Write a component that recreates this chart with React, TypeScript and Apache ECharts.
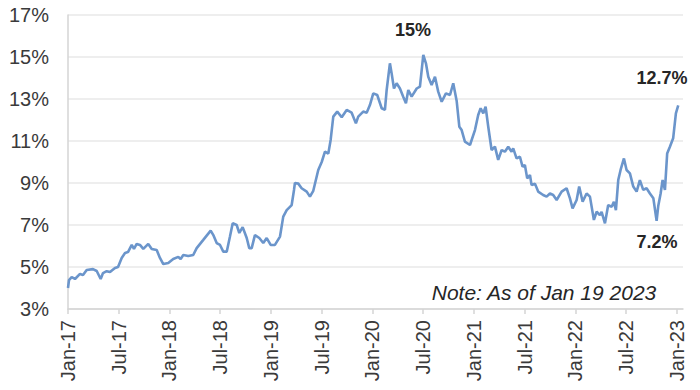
import React, { useEffect, useRef } from "react";
import * as echarts from "echarts";

// decimal year of each observation
const years: number[] = [
  2017.0, 2017.01, 2017.036, 2017.069, 2017.118, 2017.148, 2017.184, 2017.246, 2017.283, 2017.322,
  2017.345, 2017.381, 2017.414, 2017.463, 2017.493, 2017.529, 2017.562, 2017.591, 2017.628, 2017.65,
  2017.677, 2017.709, 2017.742, 2017.791, 2017.825, 2017.874, 2017.906, 2017.939, 2017.988, 2018.037,
  2018.087, 2018.11, 2018.136, 2018.185, 2018.234, 2018.268, 2018.333, 2018.406, 2018.432, 2018.465,
  2018.498, 2018.53, 2018.564, 2018.596, 2018.623, 2018.662, 2018.688, 2018.721, 2018.761, 2018.786,
  2018.81, 2018.842, 2018.885, 2018.924, 2018.958, 2018.997, 2019.039, 2019.089, 2019.121, 2019.155,
  2019.204, 2019.227, 2019.236, 2019.269, 2019.302, 2019.352, 2019.384, 2019.417, 2019.466, 2019.5,
  2019.532, 2019.565, 2019.588, 2019.614, 2019.653, 2019.697, 2019.746, 2019.795, 2019.837, 2019.86,
  2019.909, 2019.943, 2019.975, 2020.008, 2020.047, 2020.091, 2020.123, 2020.14, 2020.172, 2020.189,
  2020.212, 2020.238, 2020.271, 2020.303, 2020.33, 2020.353, 2020.386, 2020.436, 2020.468, 2020.501,
  2020.527, 2020.55, 2020.583, 2020.616, 2020.648, 2020.682, 2020.724, 2020.764, 2020.796, 2020.83,
  2020.856, 2020.879, 2020.911, 2020.961, 2021.01, 2021.042, 2021.066, 2021.092, 2021.115, 2021.141,
  2021.174, 2021.207, 2021.239, 2021.273, 2021.305, 2021.338, 2021.371, 2021.387, 2021.42, 2021.453,
  2021.479, 2021.502, 2021.525, 2021.552, 2021.568, 2021.601, 2021.633, 2021.682, 2021.716, 2021.749,
  2021.781, 2021.815, 2021.864, 2021.913, 2021.946, 2021.972, 2022.012, 2022.037, 2022.071, 2022.11,
  2022.143, 2022.182, 2022.209, 2022.241, 2022.258, 2022.291, 2022.323, 2022.357, 2022.379, 2022.399,
  2022.422, 2022.445, 2022.478, 2022.504, 2022.537, 2022.57, 2022.603, 2022.635, 2022.668, 2022.701,
  2022.734, 2022.768, 2022.8, 2022.816, 2022.84, 2022.859, 2022.882, 2022.904, 2022.931, 2022.963,
  2022.99, 2023.013,
];

// percentage values
const rates: number[] = [
  4.0, 4.38, 4.52, 4.43, 4.67, 4.62, 4.86, 4.9, 4.81, 4.43,
  4.71, 4.8, 4.76, 4.95, 5.0, 5.43, 5.67, 5.71, 6.05, 5.86,
  6.1, 6.05, 5.86, 6.1, 5.86, 5.81, 5.43, 5.14, 5.19, 5.38,
  5.48, 5.38, 5.57, 5.52, 5.57, 5.9, 6.29, 6.73, 6.52, 6.14,
  6.05, 5.73, 5.73, 6.45, 7.08, 7.0, 6.62, 6.9, 6.38, 5.9,
  5.9, 6.52, 6.38, 6.14, 6.38, 6.05, 6.05, 6.45, 7.4, 7.71,
  7.95, 8.67, 9.0, 8.97, 8.75, 8.59, 8.35, 8.63, 9.62, 10.0,
  10.49, 10.4, 11.05, 12.16, 12.4, 12.13, 12.48, 12.35, 11.84, 12.16,
  12.4, 12.35, 12.71, 13.27, 13.19, 12.56, 12.48, 13.43, 14.7, 14.22,
  13.5, 13.75, 13.5, 13.11, 12.8, 13.43, 13.11, 13.5, 13.59, 15.1,
  14.7, 14.06, 13.67, 14.06, 13.35, 12.87, 13.27, 13.19, 13.75, 12.9,
  11.68, 11.52, 10.97, 10.81, 11.52, 12.24, 12.56, 12.32, 12.63, 11.68,
  10.57, 10.73, 10.1, 10.57, 10.49, 10.73, 10.49, 10.65, 10.17, 10.25,
  9.78, 9.86, 9.22, 9.38, 8.9, 8.97, 8.59, 8.43, 8.35, 8.5,
  8.43, 8.19, 8.59, 8.75, 8.27, 7.79, 8.19, 8.83, 8.11, 8.5,
  8.35, 7.24, 7.63, 7.47, 7.63, 7.08, 7.95, 7.87, 8.11, 7.71,
  9.14, 9.62, 10.17, 9.62, 9.46, 8.83, 8.59, 9.14, 8.67, 8.75,
  8.5, 8.27, 7.2, 7.9, 8.51, 9.14, 8.67, 10.4, 10.73, 11.13,
  12.32, 12.7,
];

// x-axis tick positions (Jan / Jul of each year)
const xTicks: number[] = [
  2017, 2017.5, 2018, 2018.5, 2019, 2019.5, 2020, 2020.5, 2021, 2021.5, 2022, 2022.5, 2023,
];

const yTicksPct: number[] = [3, 5, 7, 9, 11, 13, 15, 17];

const callouts = [
  { text: "15%", x: 413, y: 30 },
  { text: "12.7%", x: 662, y: 78 },
  { text: "7.2%", x: 657, y: 242 },
];

const noteText = "Note: As of Jan 19 2023";

const FONT = "'Liberation Sans', Arial, sans-serif";

function tickLabel(v: number): string {
  const y = Math.floor(v + 1e-6);
  const frac = v - y;
  const yy = String(y % 100).padStart(2, "0");
  if (Math.abs(frac) < 0.01) return "Jan-" + yy;
  if (Math.abs(frac - 0.5) < 0.01) return "Jul-" + yy;
  return "";
}

export default function App() {
  const ref = useRef<HTMLDivElement>(null);
  useEffect(() => {
    if (!ref.current) return;
    const chart = echarts.init(ref.current, undefined, { renderer: "svg" });
    const data = years.map((t, i) => [t, rates[i]]);
    chart.setOption({
      animation: false,
      backgroundColor: "#ffffff",
      grid: { left: 68, right: 17, top: 15, bottom: 81, containLabel: false },
      xAxis: {
        type: "value",
        min: 2017,
        max: 2023.06,
        splitLine: { show: false },
        axisLine: { show: true, lineStyle: { color: "#d4d4d4", width: 1.5 } },
        axisTick: {
          show: true,
          length: 5,
          customValues: xTicks,
          lineStyle: { color: "#d4d4d4", width: 1.5 },
        },
        axisLabel: {
          customValues: xTicks,
          rotate: 90,
          margin: 11,
          fontSize: 20,
          color: "#3a3a3a",
          fontFamily: FONT,
          formatter: (v: number) => tickLabel(v),
        },
      },
      yAxis: {
        type: "value",
        min: yTicksPct[0],
        max: yTicksPct[yTicksPct.length - 1],
        interval: 2,
        axisLine: { show: true, lineStyle: { color: "#d4d4d4", width: 1.5 } },
        axisTick: { show: false },
        splitLine: { show: true, lineStyle: { color: "#e8e8e8", width: 1.5 } },
        axisLabel: {
          formatter: "{value}%",
          margin: 19,
          fontSize: 20,
          color: "#3a3a3a",
          fontFamily: FONT,
        },
      },
      series: [
        {
          type: "line",
          data,
          showSymbol: false,
          symbol: "none",
          lineStyle: { color: "#6b95cb", width: 2.6 },
          itemStyle: { color: "#6b95cb" },
        },
      ],
      graphic: [
        ...callouts.map((c) => ({
          type: "text",
          x: c.x,
          y: c.y,
          style: {
            text: c.text,
            fill: "#262626",
            font: `bold 18px ${FONT}`,
            textAlign: "center",
            textVerticalAlign: "middle",
          },
        })),
        {
          type: "text",
          x: 544,
          y: 292,
          style: {
            text: noteText,
            fill: "#262626",
            font: `italic 21px ${FONT}`,
            textAlign: "center",
            textVerticalAlign: "middle",
          },
        },
      ],
    });
    return () => chart.dispose();
  }, []);
  return <div ref={ref} style={{ width: 700, height: 390, position: "absolute", left: 0, top: 0 }} />;
}
